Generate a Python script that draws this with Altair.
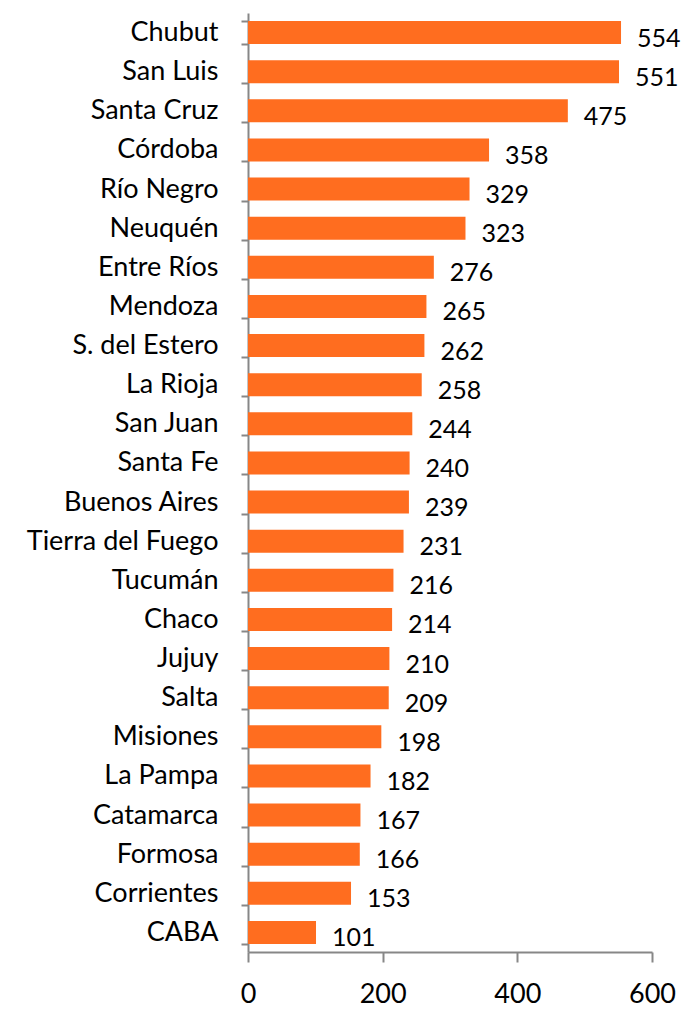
import altair as alt
import pandas as pd

provinces = ["Chubut", "San Luis", "Santa Cruz", "Córdoba", "Río Negro", "Neuquén",
             "Entre Ríos", "Mendoza", "S. del Estero", "La Rioja", "San Juan", "Santa Fe",
             "Buenos Aires", "Tierra del Fuego", "Tucumán", "Chaco", "Jujuy", "Salta",
             "Misiones", "La Pampa", "Catamarca", "Formosa", "Corrientes", "CABA"]
values = [554, 551, 475, 358, 329, 323, 276, 265, 262, 258, 244, 240, 239, 231,
          216, 214, 210, 209, 198, 182, 167, 166, 153, 101]
x_ticks = [0, 200, 400, 600]

df = pd.DataFrame({"provincia": provinces, "valor": values})

FONT = "Lato"
ORANGE = "#FF6D1F"
GRAY = "#878787"

y_enc = alt.Y("provincia:N", sort=provinces,
              scale=alt.Scale(paddingInner=0.41, paddingOuter=0.205),
              axis=alt.Axis(title=None, tickBand="extent", tickSize=7, tickWidth=2,
                            tickColor=GRAY, domainColor=GRAY, domainWidth=2,
                            labelFont=FONT, labelFontSize=27, labelColor="#000000",
                            labelPadding=23, labelLimit=300))
x_enc = alt.X("valor:Q", scale=alt.Scale(domain=[0, 600], nice=False),
              axis=alt.Axis(title=None, values=x_ticks, grid=False, tickSize=10,
                            tickWidth=2, tickColor=GRAY, domainColor=GRAY, domainWidth=2,
                            labelFont=FONT, labelFontSize=27, labelColor="#000000",
                            labelPadding=19, labelFlush=False))

bars = alt.Chart(df).mark_bar(color=ORANGE).encode(x=x_enc, y=y_enc)
labels = alt.Chart(df).mark_text(align="left", baseline="middle", dx=16, dy=6,
                                 font=FONT, fontSize=25, color="#000000").encode(
    x="valor:Q", y=alt.Y("provincia:N", sort=provinces), text="valor:Q")

chart = (bars + labels).properties(
    width=404, height=939,
    autosize=alt.AutoSizeParams(type="none"),
    padding={"left": 240, "top": 5, "right": 29, "bottom": 56},
).configure(background="white", view=alt.ViewConfig(stroke=None))

chart.save("out.html", embed_options={"renderer": "svg", "actions": False})
